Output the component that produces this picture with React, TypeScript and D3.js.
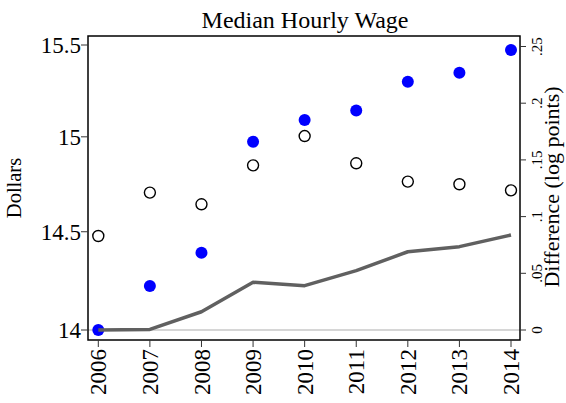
import React from "react";
import * as d3 from "d3";

const years = [2006, 2007, 2008, 2009, 2010, 2011, 2012, 2013, 2014];
const medianWage = [14.0, 14.222, 14.392, 14.974, 15.09, 15.141, 15.298, 15.347, 15.472];
const otherWage = [14.478, 14.704, 14.643, 14.848, 15.004, 14.859, 14.762, 14.748, 14.716];
const logDiff = [0.0, 0.0005, 0.0161, 0.0421, 0.0391, 0.0523, 0.069, 0.0735, 0.0838];
const leftTicks = [14, 14.5, 15, 15.5];
const leftTickLabels = ["14", "14.5", "15", "15.5"];
const rightTicks = [0, 0.05, 0.1, 0.15, 0.2, 0.25];
const rightTickLabels = ["0", ".05", ".1", ".15", ".2", ".25"];

const FONT = "'Liberation Serif', 'Times New Roman', Times, serif";

export default function App() {
  const W = 566, H = 403;
  const frame = { left: 88, right: 520, top: 36, bottom: 340 };
  const x = d3.scaleLinear().domain([2006, 2014]).range([98.3, 511]);
  const yL = d3.scaleLog().domain([14, 15.5]).range([330, 45]);
  const yR = d3.scaleLinear().domain([0, 0.25]).range([330, 46.5]);
  const line = d3
    .line<number>()
    .x((_, i) => x(years[i]))
    .y((d) => yR(d));

  return (
    <svg
      width={W}
      height={H}
      style={{ position: "absolute", left: 0, top: 0, background: "#fff" }}
      fontFamily={FONT}
    >
      <rect x={0} y={0} width={W} height={H} fill="#fff" />
      <text x={305} y={28} textAnchor="middle" fontSize={24} fill="#000">
        Median Hourly Wage
      </text>
      {/* zero reference line */}
      <line x1={frame.left} x2={frame.right} y1={yR(0)} y2={yR(0)} stroke="#c8c8c8" strokeWidth={1.5} />
      {/* frame */}
      <rect
        x={frame.left}
        y={frame.top}
        width={frame.right - frame.left}
        height={frame.bottom - frame.top}
        fill="none"
        stroke="#000"
        strokeWidth={1.5}
      />
      {/* left axis */}
      {leftTicks.map((t, i) => (
        <g key={"l" + t}>
          <line x1={frame.left - 7} x2={frame.left} y1={yL(t)} y2={yL(t)} stroke="#333" strokeWidth={1} />
          <text x={frame.left - 7} y={yL(t)} dy="0.35em" textAnchor="end" fontSize={23} fill="#000">
            {leftTickLabels[i]}
          </text>
        </g>
      ))}
      <text
        transform={`translate(21,188) rotate(-90)`}
        textAnchor="middle"
        fontSize={20.5}
        fill="#000"
      >
        Dollars
      </text>
      {/* right axis */}
      {rightTicks.map((t, i) => (
        <g key={"r" + t}>
          <line x1={frame.right} x2={frame.right + 6} y1={yR(t)} y2={yR(t)} stroke="#333" strokeWidth={1} />
          <text
            transform={`translate(${frame.right + 17},${yR(t)}) rotate(-90)`}
            dy="0.35em"
            textAnchor="middle"
            fontSize={15}
            fill="#000"
          >
            {rightTickLabels[i]}
          </text>
        </g>
      ))}
      <text
        transform={`translate(559,187) rotate(-90)`}
        textAnchor="middle"
        fontSize={22}
        fill="#000"
      >
        Difference (log points)
      </text>
      {/* x axis */}
      {years.map((yr) => (
        <g key={"x" + yr}>
          <line x1={x(yr)} x2={x(yr)} y1={frame.bottom} y2={frame.bottom + 7} stroke="#333" strokeWidth={1} />
          <text
            transform={`translate(${x(yr)},${frame.bottom + 9}) rotate(-90)`}
            dy="0.35em"
            textAnchor="end"
            fontSize={23}
            fill="#000"
          >
            {yr}
          </text>
        </g>
      ))}
      {/* series */}
      {medianWage.map((v, i) => (
        <circle key={"b" + i} cx={x(years[i])} cy={yL(v)} r={6} fill="#0000ff" />
      ))}
      {otherWage.map((v, i) => (
        <circle key={"o" + i} cx={x(years[i])} cy={yL(v)} r={5.5} fill="none" stroke="#000" strokeWidth={1.4} />
      ))}
      <path d={line(logDiff) || ""} fill="none" stroke="#606060" strokeWidth={3.5} strokeLinejoin="round" />
    </svg>
  );
}
